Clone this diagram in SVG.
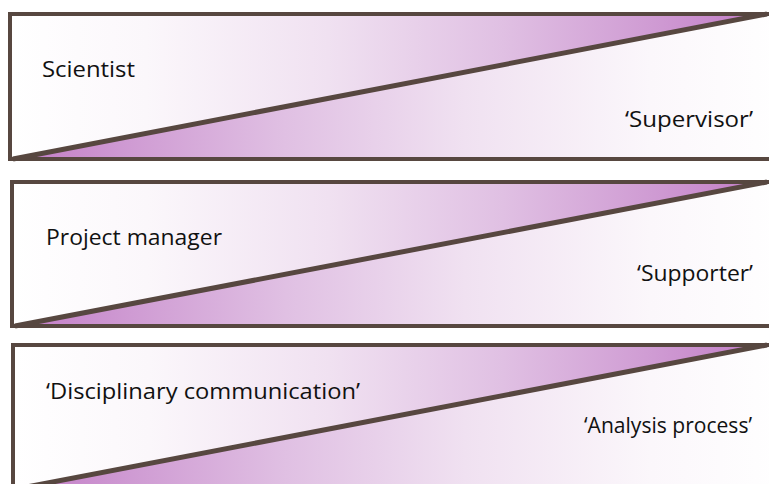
<svg xmlns="http://www.w3.org/2000/svg" width="769" height="484" viewBox="0 0 769 484">
  <style>
    .frame { fill: none; stroke: #574740; stroke-width: 4; }
    .diag { stroke: #574740; stroke-width: 5; stroke-linecap: butt; }
    .lbl { font-family: "Open Sans", "Noto Sans", "Liberation Sans", sans-serif; font-size: 22px; fill: #111111; }
    .up { fill: url(#gUp); }
    .lo { fill: url(#gLo); }
  </style>
  <defs>
    <linearGradient id="gUp" x1="0" y1="0" x2="1" y2="0">
      <stop offset="0" stop-color="#ffffff"/>
      <stop offset="0.18" stop-color="#fbf7fb"/>
      <stop offset="0.42" stop-color="#f0e1f1"/>
      <stop offset="0.65" stop-color="#e0c0e3"/>
      <stop offset="0.85" stop-color="#cf9bd3"/>
      <stop offset="1" stop-color="#c27bc6"/>
    </linearGradient>
    <linearGradient id="gLo" x1="0" y1="0" x2="1" y2="0">
      <stop offset="0" stop-color="#c27bc6"/>
      <stop offset="0.15" stop-color="#cf9bd3"/>
      <stop offset="0.35" stop-color="#e0c0e3"/>
      <stop offset="0.58" stop-color="#f0e1f1"/>
      <stop offset="0.82" stop-color="#fbf7fb"/>
      <stop offset="1" stop-color="#ffffff"/>
    </linearGradient>
  </defs>
  <rect width="769" height="484" fill="#ffffff"/>

  <g id="panel1">
    <polygon class="up" points="10,14 767,14 13,159"/>
    <polygon class="lo" points="13,159 767,14 790,14 790,159"/>
    <rect class="frame" x="10" y="14" width="780" height="145"/>
    <line class="diag" x1="13" y1="159" x2="767" y2="14"/>
    <text class="lbl" x="42" y="77" textLength="93" lengthAdjust="spacingAndGlyphs">Scientist</text>
    <text class="lbl" x="753" y="127" text-anchor="end" textLength="128" lengthAdjust="spacingAndGlyphs">‘Supervisor’</text>
  </g>

  <g id="panel2">
    <polygon class="up" points="12,182 767,182 15,326"/>
    <polygon class="lo" points="15,326 767,182 790,182 790,326"/>
    <rect class="frame" x="12" y="182" width="780" height="144"/>
    <line class="diag" x1="15" y1="326" x2="767" y2="182"/>
    <text class="lbl" x="46" y="245" textLength="176" lengthAdjust="spacingAndGlyphs">Project manager</text>
    <text class="lbl" x="753" y="281" text-anchor="end" textLength="116" lengthAdjust="spacingAndGlyphs">‘Supporter’</text>
  </g>

  <g id="panel3">
    <polygon class="up" points="13,345 767,345 16,489"/>
    <polygon class="lo" points="16,489 767,345 790,345 790,489"/>
    <rect class="frame" x="13" y="345" width="780" height="144"/>
    <line class="diag" x1="16" y1="489" x2="767" y2="345"/>
    <text class="lbl" x="46" y="399" textLength="314" lengthAdjust="spacingAndGlyphs">‘Disciplinary communication’</text>
    <text class="lbl" x="752" y="433" text-anchor="end" textLength="168" lengthAdjust="spacingAndGlyphs">‘Analysis process’</text>
  </g>
</svg>
